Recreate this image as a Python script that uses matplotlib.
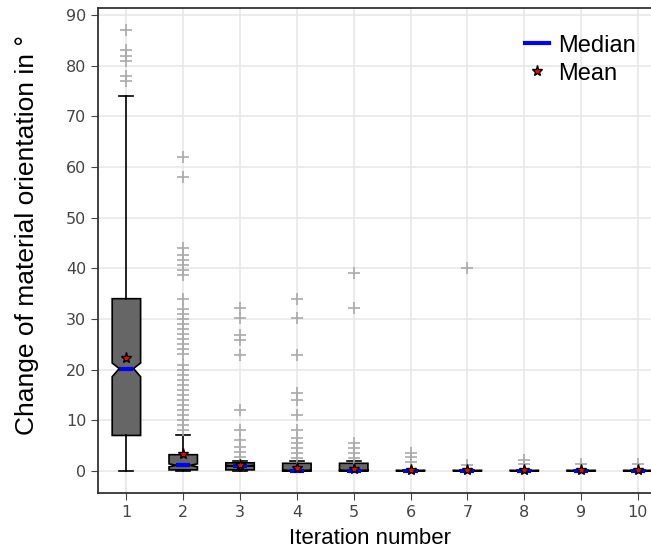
import matplotlib.pyplot as plt
from matplotlib.lines import Line2D

iterations = [1, 2, 3, 4, 5, 6, 7, 8, 9, 10]
q1 = [7, 0.2, 0.2, 0.1, 0.1, 0, 0, 0, 0, 0]
q3 = [34, 3.2, 1.6, 1.5, 1.5, 0.1, 0.1, 0.1, 0.1, 0.1]
medians = [20.2, 1.1, 1.0, 0.0, 0.0, 0.0, 0.0, 0.0, 0.0, 0.0]
means = [22.2, 3.3, 1.2, 0.6, 0.4, 0.2, 0.2, 0.1, 0.1, 0.1]
whis_lo = [0, 0, 0, 0, 0, 0, 0, 0, 0, 0]
whis_hi = [74, 7, 2, 2, 2, 0.2, 0.2, 0.2, 0.2, 0.2]
notch_lo = [18.6, 0.8, 0.9, 0.0, 0.0, 0.0, 0.0, 0.0, 0.0, 0.0]
notch_hi = [21.3, 1.4, 1.1, 0.1, 0.1, 0.05, 0.05, 0.05, 0.05, 0.05]
fliers = [
    [87, 83, 82, 81, 78, 77],
    [62, 58, 44, 42.7, 41.7, 40.7, 39.7, 38.7, 34, 32, 31, 30, 29, 28, 27,
     26, 25, 24, 23, 21, 20, 19, 18, 17, 16, 15, 14, 13, 12, 11, 10, 9, 8],
    [32.2, 30.2, 26.9, 25.9, 22.9, 12, 8.1, 6.1, 4.7, 3.7, 2.8],
    [34, 30.2, 22.9, 15.4, 14, 11, 8.1, 6.5, 5.5, 4.5, 3.6, 2.6],
    [39.1, 32.2, 5.5, 4.5, 3.6, 2.6],
    [3.5, 2.7, 1.8],
    [40, 1.2],
    [2.2, 1.4],
    [1.3],
    [1.3],
]

stats = []
for i in range(len(iterations)):
    stats.append({
        "label": str(iterations[i]),
        "q1": q1[i], "q3": q3[i], "med": medians[i], "mean": means[i],
        "whislo": whis_lo[i], "whishi": whis_hi[i],
        "cilo": notch_lo[i], "cihi": notch_hi[i],
        "fliers": fliers[i],
    })

fig = plt.figure(figsize=(6.51, 5.52), dpi=100)
ax = fig.add_axes([0.1505, 0.107, 0.873, 0.8786])

ax.grid(True, color="#e6e6e6", linewidth=1.1, zorder=0)
ax.set_axisbelow(True)

ax.bxp(stats, positions=iterations, widths=0.5, shownotches=True,
       showmeans=True, patch_artist=True,
       boxprops=dict(facecolor="#666666", edgecolor="black", linewidth=1.2),
       whiskerprops=dict(color="black", linewidth=1.2),
       capprops=dict(color="black", linewidth=1.2),
       medianprops=dict(color="blue", linewidth=3),
       meanprops=dict(marker="*", markerfacecolor="red",
                      markeredgecolor="black", markersize=8),
       flierprops=dict(marker="+", markeredgecolor="#aaaaaa",
                       markersize=8, markeredgewidth=1.2))

ax.set_xlim(0.5, 10.5)
ax.set_ylim(-4.35, 91.4)
ax.set_yticks(range(0, 91, 10))
ax.tick_params(labelsize=11.5, labelcolor="#444444", color="#444444",
               length=5)
for s in ax.spines.values():
    s.set_color("#333333")
    s.set_linewidth(1.3)

ax.set_xlabel("Iteration number", fontsize=16, family="Liberation Sans")
ax.set_ylabel("Change of material orientation in °", fontsize=19,
              family="Liberation Sans")
ax.xaxis.set_label_coords(0.479, -0.073)
ax.yaxis.set_label_coords(-0.104, 0.532)

handles = [
    Line2D([], [], color="blue", linewidth=3),
    Line2D([], [], linestyle="none", marker="*", markerfacecolor="red",
           markeredgecolor="black", markersize=8),
]
ax.legend(handles, ["Median", "Mean"], loc="upper left",
          bbox_to_anchor=(0.752, 0.945), frameon=False,
          borderaxespad=0, borderpad=0,
          prop={"family": "Liberation Sans", "size": 17},
          handlelength=1.0, handletextpad=0.4, labelspacing=0.25)

fig.savefig("out.png", dpi=100)
